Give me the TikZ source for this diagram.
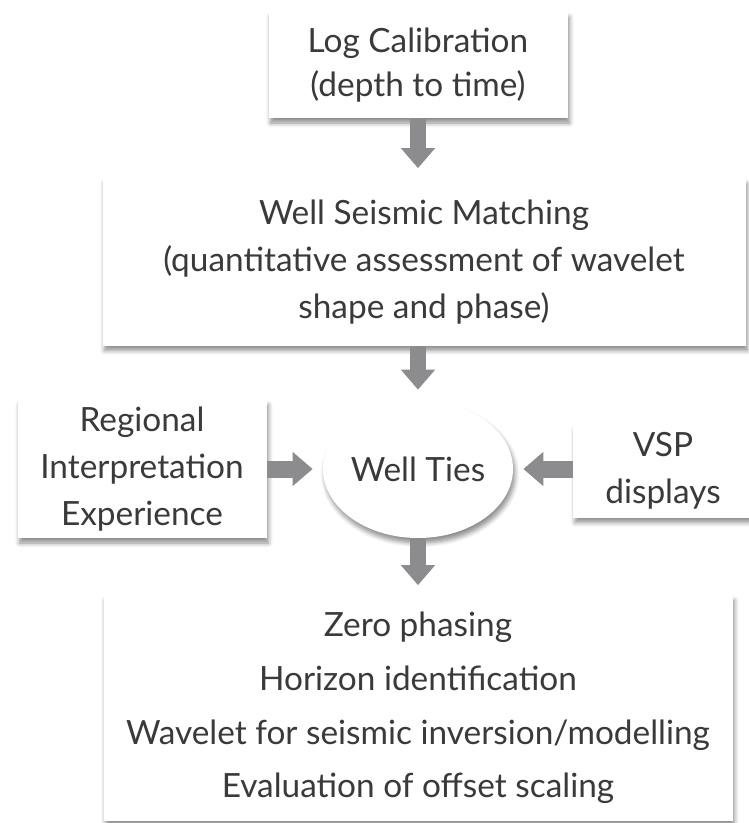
\documentclass[tikz,border=0pt]{standalone}
\usepackage{fontspec}
\setmainfont{Lato}
\usetikzlibrary{arrows.meta,shadows.blur,shapes.geometric}
\definecolor{txtgray}{HTML}{3A3A3A}
\definecolor{arrgray}{HTML}{8C8C8E}
\tikzset{
  box/.style={fill=white, align=center, inner sep=0pt, text=txtgray,
    blur shadow={shadow blur steps=6, shadow xshift=0.4mm, shadow yshift=-1mm, shadow opacity=45, shadow blur radius=0.9mm},
    font=\fontsize{19}{26.5}\selectfont},
  flow/.style={draw=arrgray, line width=0.34cm,
    -{Triangle[width=0.66cm, length=0.4cm]}, shorten >=0.2cm}
}
\begin{document}
\begin{tikzpicture}[x=0.02cm, y=-0.02cm]
    \useasboundingbox (0,0) rectangle (749,823);
    \node[box, minimum width=299*0.02cm, minimum height=106*0.02cm, font=\fontsize{19}{25}\selectfont] (log) at (418,65) {Log Calibration\\(depth to time)};
    \node[box, minimum width=643*0.02cm, minimum height=167*0.02cm, font=\fontsize{19}{27}\selectfont] (match) at (424,262) {Well Seismic Matching\\(quantitative assessment of wavelet\\shape and phase)};
    \node[box, minimum width=249*0.02cm, minimum height=138*0.02cm] (reg) at (142,469) {Regional\\Interpretation\\Experience};
    \node[box, ellipse, minimum width=190*0.02cm, minimum height=138*0.02cm] (ties) at (418,469) {Well Ties};
    \node[box, minimum width=180*0.02cm, minimum height=93*0.02cm] (vsp) at (663,471) {VSP\\displays};
    \node[box, minimum width=629*0.02cm, minimum height=225*0.02cm, font=\fontsize{19}{30.5}\selectfont] (out) at (418,708) {Zero phasing\\Horizon identification\\Wavelet for seismic inversion/modelling\\Evaluation of offset scaling};
    \draw[flow] (log.south -| ties) -- (match.north -| ties); \draw[flow] (match.south -| ties) -- (ties.north);
    \draw[flow] (reg.east |- ties) -- (ties.west); \draw[flow] (vsp.west |- ties) -- (ties.east);
    \draw[flow] (ties.south) -- (out.north -| ties);
  \end{tikzpicture}
\end{document}
